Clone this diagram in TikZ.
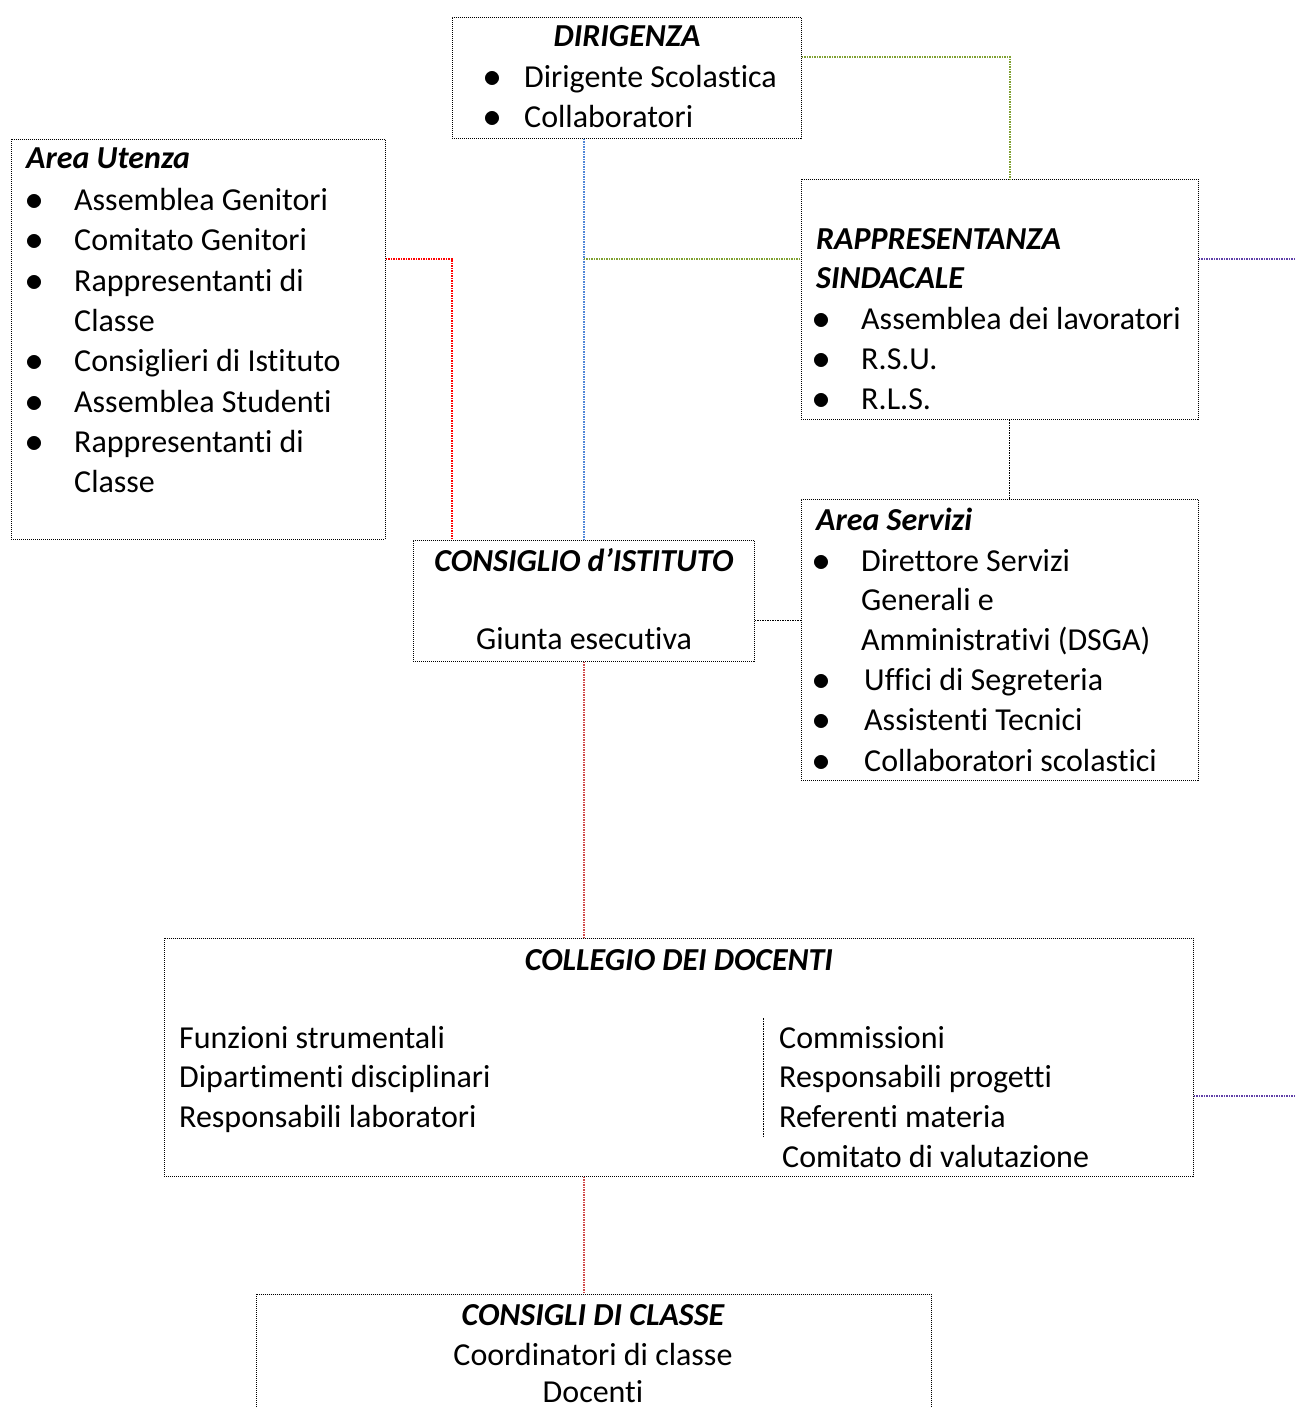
\documentclass[tikz,border=0pt]{standalone}
\usepackage{fontspec}
\setmainfont{Carlito}[Ligatures=NoCommon]
\usetikzlibrary{positioning}
\definecolor{lnkgreen}{HTML}{7FA032}
\definecolor{lnkblue}{HTML}{4F86D8}
\definecolor{lnkred}{HTML}{FF0000}
\definecolor{lnkpink}{HTML}{D04848}
\definecolor{lnkviolet}{HTML}{6040A8}
\newcommand{\blt}{\scalebox{1.45}{$\bullet$}}
\begin{document}
\begin{tikzpicture}[x=1pt, y=-1pt,
	every node/.style={inner sep=0pt, font=\fontsize{32}{40}\selectfont},
	box/.style={draw, line width=0.9pt, dash pattern=on 1pt off 1pt, anchor=north west},
	txt/.style={anchor=base west},
	mid/.style={anchor=base},
	head/.style={font=\fontsize{32}{40}\selectfont\bfseries\itshape},
	link/.style={line width=1.3pt, dash pattern=on 1.5pt off 1pt}]
		\useasboundingbox (0,0) rectangle (1295,1407);
		
		% Riquadri
		\node[box, minimum width=349pt, minimum height=121pt] (dir) at (452,17) {};
		\node[box, minimum width=374pt, minimum height=400pt] (ute) at (11,139) {};
		\node[box, minimum width=397pt, minimum height=240pt] (rsin) at (801,179) {};
		\node[box, minimum width=397pt, minimum height=281pt] (serv) at (801,499) {};
		\node[box, minimum width=341pt, minimum height=121pt] (cdi) at (413,540) {};
		\node[box, minimum width=1029pt, minimum height=238pt] (cdoc) at (164,938) {};
		\node[box, minimum width=675pt, minimum height=140pt] (ccl) at (256,1294) {};
		
		% Dirigenza
		\node[mid, head] (dir-t) at (627,47) {DIRIGENZA};
		\node[mid] (dir-b1) at (493,88) {\blt};
		\node[txt] (dir-1) at (524,88) {Dirigente Scolastica};
		\node[mid] (dir-b2) at (493,128) {\blt};
		\node[txt] (dir-2) at (524,128) {Collaboratori};
		
		% Area Utenza
		\node[txt, head] (ute-t) at (26,169) {Area Utenza};
		\node[mid] (ute-b1) at (35,210) {\blt};
		\node[txt] (ute-1) at (74,210) {Assemblea Genitori};
		\node[mid] (ute-b2) at (35,250) {\blt};
		\node[txt] (ute-2) at (74,250) {Comitato Genitori};
		\node[mid] (ute-b3) at (35,291) {\blt};
		\node[txt] (ute-3) at (74,291) {Rappresentanti di};
		\node[txt] (ute-3a) at (74,331) {Classe};
		\node[mid] (ute-b4) at (35,371) {\blt};
		\node[txt] (ute-4) at (74,371) {Consiglieri di Istituto};
		\node[mid] (ute-b5) at (35,412) {\blt};
		\node[txt] (ute-5) at (74,412) {Assemblea Studenti};
		\node[mid] (ute-b6) at (35,452) {\blt};
		\node[txt] (ute-6) at (74,452) {Rappresentanti di};
		\node[txt] (ute-6a) at (74,492) {Classe};
		
		% Rappresentanza sindacale
		\node[txt, head] (rsin-t) at (816,249) {RAPPRESENTANZA};
		\node[txt, head] (rsin-ta) at (816,288) {SINDACALE};
		\node[mid] (rsin-b1) at (822,329) {\blt};
		\node[txt] (rsin-1) at (861,329) {Assemblea dei lavoratori};
		\node[mid] (rsin-b2) at (822,369) {\blt};
		\node[txt] (rsin-2) at (861,369) {R.S.U.};
		\node[mid] (rsin-b3) at (822,409) {\blt};
		\node[txt] (rsin-3) at (861,409) {R.L.S.};
		
		% Area Servizi
		\node[txt, head] (serv-t) at (816,530) {Area Servizi};
		\node[mid] (serv-b1) at (822,571) {\blt};
		\node[txt] (serv-1) at (861,571) {Direttore Servizi};
		\node[txt] (serv-1a) at (861,610) {Generali e};
		\node[txt] (serv-1b) at (861,650) {Amministrativi (DSGA)};
		\node[mid] (serv-b2) at (822,690) {\blt};
		\node[txt] (serv-2) at (864,690) {Uffici di Segreteria};
		\node[mid] (serv-b3) at (822,730) {\blt};
		\node[txt] (serv-3) at (864,730) {Assistenti Tecnici};
		\node[mid] (serv-b4) at (822,771) {\blt};
		\node[txt] (serv-4) at (864,771) {Collaboratori scolastici};
		
		% Consiglio d'Istituto
		\node[mid, head] (cdi-t) at (584,571) {CONSIGLIO d’ISTITUTO};
		\node[mid] (cdi-1) at (584,649) {Giunta esecutiva};
		
		% Collegio dei docenti
		\node[mid, head] (cdoc-t) at (679,970) {COLLEGIO DEI DOCENTI};
		\node[txt] (cdoc-1) at (179,1048) {Funzioni strumentali};
		\node[txt] (cdoc-2) at (179,1087) {Dipartimenti disciplinari};
		\node[txt] (cdoc-3) at (179,1127) {Responsabili laboratori};
		\node[txt] (cdoc-4) at (779,1048) {Commissioni};
		\node[txt] (cdoc-5) at (779,1087) {Responsabili progetti};
		\node[txt] (cdoc-6) at (779,1127) {Referenti materia};
		\node[txt] (cdoc-7) at (782,1167) {Comitato di valutazione};
		\draw[link, line width=0.7pt] (763,1018) -- (763,1136);
		
		% Consigli di classe
		\node[mid, head] (ccl-t) at (593,1325) {CONSIGLI DI CLASSE};
		\node[mid] (ccl-1) at (593,1365) {Coordinatori di classe};
		\node[mid] (ccl-2) at (593,1402) {Docenti};
		
		% Collegamenti
		\coordinate (j1) at (cdi.north |- 0,259);
		\coordinate (j2) at (ute.east |- j1);
		\coordinate (j3) at (rsin.east |- j1);
		\coordinate (out1) at (1295,259);
		\coordinate (out2) at (1295,1096);
		\draw[link, lnkgreen] ([yshift=-40pt]dir.north east) -| ([xshift=10pt]rsin.north);
		\draw[link, lnkblue] (cdi.north |- dir.south) -- (cdi.north);
		\draw[link, lnkgreen] (j1) -- (j1 -| rsin.west);
		\draw[link, lnkred] (j2) -| ([xshift=39pt]cdi.north west);
		\draw[link, line width=1pt] ([xshift=10pt]rsin.south) -- ([xshift=10pt]serv.north);
		\draw[link, line width=1pt] ([yshift=-20pt]cdi.east) -- ([yshift=-20pt]cdi.east -| serv.west);
		\draw[link, lnkviolet] (j3) -- (out1);
		\draw[link, lnkpink] (cdi.south) -- (cdi.south |- cdoc.north);
		\draw[link, lnkviolet] (cdoc.east |- out2) -- (out2);
		\draw[link, lnkpink] (cdi.south |- cdoc.south) -- (cdi.south |- ccl.north);
		
	\end{tikzpicture}
\end{document}
